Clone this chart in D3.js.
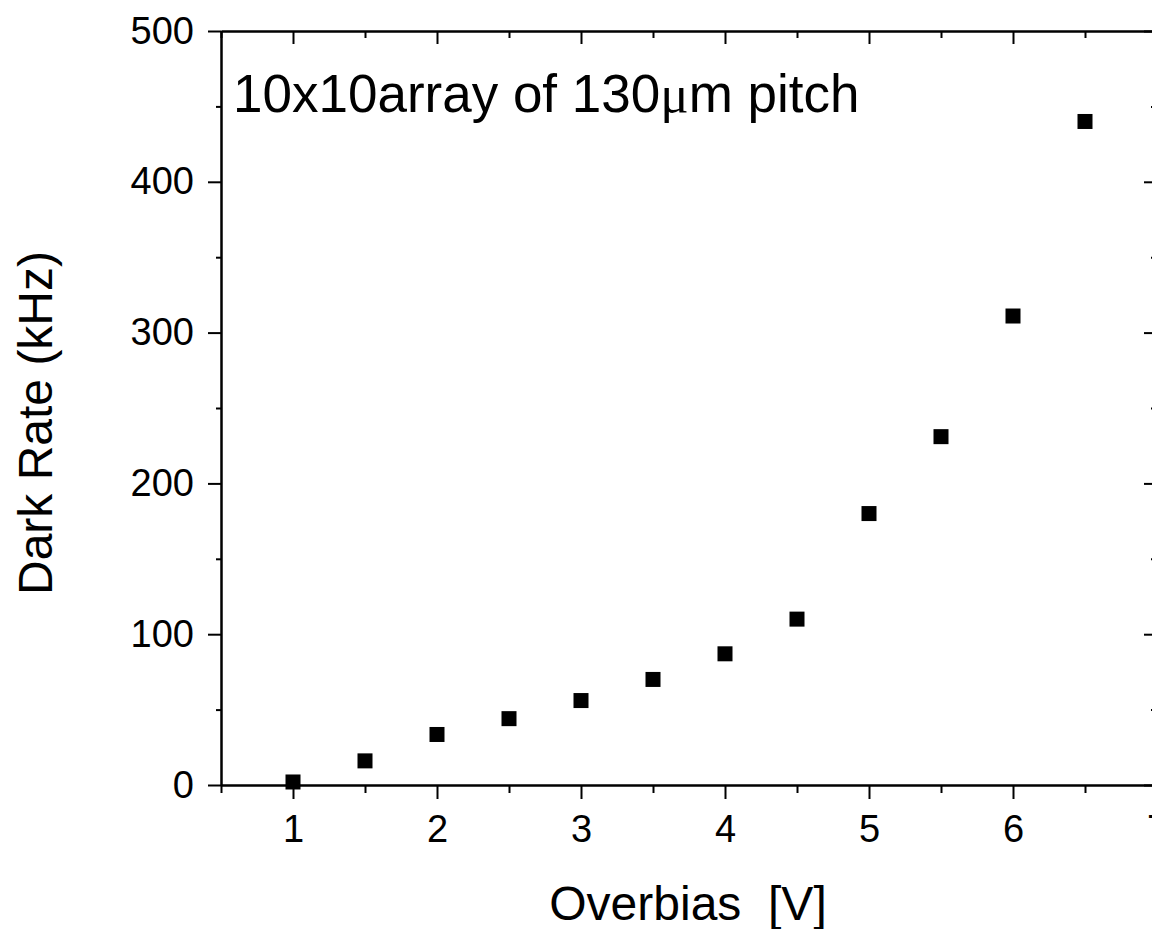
<!DOCTYPE html>
<html>
<head>
<meta charset="utf-8">
<script src="https://cdn.jsdelivr.net/npm/d3@7"></script>
<style>
    body { margin: 0; background: #fff; }
    svg { display: block; font-family: "Liberation Sans", Arial, sans-serif; }
</style>
</head>
<body>
<div id="chart"></div>
<script>
// data
const overbias = [1, 1.5, 2, 2.5, 3, 3.5, 4, 4.5, 5, 5.5, 6, 6.5];
const darkRate = [2, 16, 33.5, 44, 56, 70, 87, 110, 180, 231, 311, 440];

const xMajor = [1, 2, 3, 4, 5, 6, 7];
const xMinor = [0.5, 1.5, 2.5, 3.5, 4.5, 5.5, 6.5];
const yMajor = [0, 100, 200, 300, 400, 500];
const yMinor = [50, 150, 250, 350, 450];

//caption split so the mu can use a symbol-like serif face
const captionParts = ["10x10array of 130", "\u03bc", "m pitch"];
const xTitle = "Overbias  [V]";
const yTitle = "Dark Rate (kHz)";

const W = 1152, H = 929;
const plot = { left: 221, right: 1157, top: 31, bottom: 785 };

let svg = d3.select("#chart").append("svg")
    .attr("width", W)
    .attr("height", H)
    .style("overflow", "hidden");

let x = d3.scaleLinear().domain([0.5, 7]).range([plot.left, plot.right]);
let y = d3.scaleLinear().domain([0, 500]).range([plot.bottom, plot.top]);

//helper to style an axis group
function styleAxis(g, fontSize) {
    g.select(".domain").attr("stroke", "#000").attr("stroke-width", 2);
    g.selectAll(".tick line").attr("stroke", "#000").attr("stroke-width", 2);
    g.selectAll(".tick text")
        .attr("fill", "#000")
        .style("font-size", fontSize + "px")
        .style("font-family", "'Liberation Sans', Arial, sans-serif");
}

//bottom axis: major + minor, outward
svg.append("g")
    .attr("transform", "translate(0," + plot.bottom + ")")
    .call(d3.axisBottom(x).tickValues(xMinor).tickSize(8).tickSizeOuter(0).tickFormat(""))
    .call(g => styleAxis(g, 38));
svg.append("g")
    .attr("transform", "translate(0," + plot.bottom + ")")
    .call(d3.axisBottom(x).tickValues(xMajor).tickSize(14).tickSizeOuter(0)
        .tickPadding(16).tickFormat(d3.format("d")))
    .call(g => styleAxis(g, 38));

//top axis: inward ticks
svg.append("g")
    .attr("transform", "translate(0," + plot.top + ")")
    .call(d3.axisTop(x).tickValues(xMinor).tickSize(-7).tickSizeOuter(0).tickFormat(""))
    .call(g => styleAxis(g, 38));
svg.append("g")
    .attr("transform", "translate(0," + plot.top + ")")
    .call(d3.axisTop(x).tickValues(xMajor).tickSize(-13).tickSizeOuter(0).tickFormat(""))
    .call(g => styleAxis(g, 38));

//left axis: outward
svg.append("g")
    .attr("transform", "translate(" + plot.left + ",0)")
    .call(d3.axisLeft(y).tickValues(yMinor).tickSize(5).tickSizeOuter(0).tickFormat(""))
    .call(g => styleAxis(g, 38));
svg.append("g")
    .attr("transform", "translate(" + plot.left + ",0)")
    .call(d3.axisLeft(y).tickValues(yMajor).tickSize(13).tickSizeOuter(0)
        .tickPadding(14).tickFormat(d3.format("d")))
    .call(g => styleAxis(g, 38));

//right axis: inward
svg.append("g")
    .attr("transform", "translate(" + plot.right + ",0)")
    .call(d3.axisRight(y).tickValues(yMinor).tickSize(-6).tickSizeOuter(0).tickFormat(""))
    .call(g => styleAxis(g, 38));
svg.append("g")
    .attr("transform", "translate(" + plot.right + ",0)")
    .call(d3.axisRight(y).tickValues(yMajor).tickSize(-13).tickSizeOuter(0).tickFormat(""))
    .call(g => styleAxis(g, 38));

//square markers
const sq = 15;
svg.selectAll(".pt")
    .data(overbias.map((d, i) => [d, darkRate[i]]))
    .enter()
    .append("rect")
    .attr("class", "pt")
    .attr("x", d => x(d[0]) - sq / 2)
    .attr("y", d => y(d[1]) - sq / 2)
    .attr("width", sq)
    .attr("height", sq)
    .attr("fill", "#000");

//caption inside plot
let cap = svg.append("text")
    .attr("x", 233)
    .attr("y", 112)
    .style("font-size", "53px")
    .attr("fill", "#000");
cap.append("tspan").text(captionParts[0]);
cap.append("tspan").text(captionParts[1])
    .style("font-family", "'Liberation Serif', 'DejaVu Serif', serif");
cap.append("tspan").text(captionParts[2]);

//axis titles
svg.append("text")
    .attr("x", 688)
    .attr("y", 920)
    .attr("text-anchor", "middle")
    .style("white-space", "pre")
    .attr("xml:space", "preserve")
    .style("font-size", "48px")
    .text(xTitle);

svg.append("text")
    .attr("transform", "translate(52,423) rotate(-90)")
    .attr("text-anchor", "middle")
    .style("font-size", "48px")
    .text(yTitle);
</script>
</body>
</html>
